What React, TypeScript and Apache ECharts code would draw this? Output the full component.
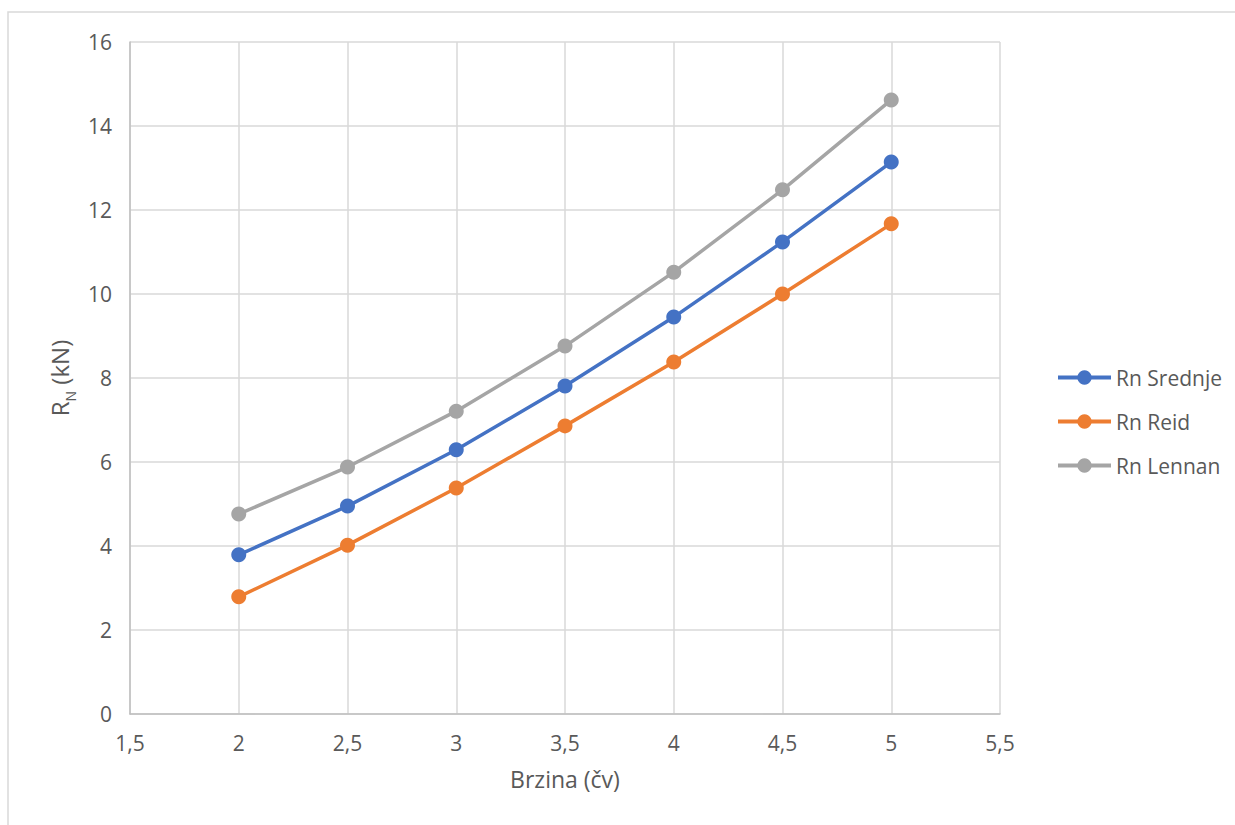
import React, { useEffect, useRef } from "react";
import * as echarts from "echarts";

const speeds = [2, 2.5, 3, 3.5, 4, 4.5, 5];
const rnSrednje = [3.79, 4.95, 6.29, 7.81, 9.45, 11.24, 13.14];
const rnReid = [2.79, 4.02, 5.38, 6.86, 8.38, 10.0, 11.67];
const rnLennan = [4.76, 5.88, 7.21, 8.76, 10.52, 12.48, 14.62];
const seriesNames = ["Rn Srednje", "Rn Reid", "Rn Lennan"];
const seriesColors = ["#4472C4", "#ED7D31", "#A5A5A5"];

const FONT = "'Open Sans', 'Noto Sans', sans-serif";

export default function App() {
  const ref = useRef<HTMLDivElement>(null);
  useEffect(() => {
    if (!ref.current) return;
    const chart = echarts.init(ref.current, undefined, { renderer: "svg" });
    const all = [rnSrednje, rnReid, rnLennan];
    chart.setOption({
      animation: false,
      backgroundColor: "#ffffff",
      textStyle: { fontFamily: FONT },
      graphic: [
        {
          type: "rect",
          shape: { x: 8, y: 12, width: 1250, height: 840 },
          style: { fill: "none", stroke: "#d9d9d9", lineWidth: 1.5 },
          silent: true,
        },
      ],
      grid: { left: 130, right: 235, top: 42, bottom: 111, containLabel: false },
      legend: {
        orient: "vertical",
        left: 1056,
        top: 367,
        padding: 0,
        itemWidth: 53,
        itemHeight: 18,
        itemGap: 23,
        lineStyle: { width: 4 },
        textStyle: { color: "#595959", fontSize: 21, fontFamily: FONT },
        data: seriesNames,
      },
      xAxis: {
        type: "value",
        min: 1.5,
        max: 5.5,
        interval: 0.5,
        name: "Brzina (čv)",
        nameLocation: "middle",
        nameGap: 53,
        nameTextStyle: { color: "#595959", fontSize: 23, fontFamily: FONT },
        axisLine: { show: true, lineStyle: { color: "#bfbfbf", width: 1.5 } },
        axisTick: { show: false },
        splitLine: { show: true, lineStyle: { color: "#d9d9d9", width: 1.5 } },
        axisLabel: {
          color: "#595959",
          fontSize: 21,
          margin: 18,
          formatter: (v: number) => String(v).replace(".", ","),
        },
      },
      yAxis: {
        type: "value",
        min: 0,
        max: 16,
        interval: 2,
        name: "{r|R}{s|N}{r| (kN)}",
        nameLocation: "middle",
        nameGap: 50,
        nameRotate: 90,
        nameTextStyle: {
          color: "#595959",
          fontSize: 24,
          fontFamily: FONT,
          rich: {
            r: { fontSize: 24, color: "#595959", fontFamily: FONT, verticalAlign: "top", lineHeight: 30 },
            s: { fontSize: 14, color: "#595959", fontFamily: FONT, verticalAlign: "bottom", lineHeight: 14 },
          },
        },
        axisLine: { show: true, lineStyle: { color: "#bfbfbf", width: 1.5 } },
        axisTick: { show: false },
        splitLine: { show: true, lineStyle: { color: "#d9d9d9", width: 1.5 } },
        axisLabel: { color: "#595959", fontSize: 21, margin: 18 },
      },
      series: all.map((vals, i) => ({
        name: seriesNames[i],
        type: "line",
        data: speeds.map((s, j) => [s, vals[j]]),
        symbol: "circle",
        symbolSize: 15,
        lineStyle: { color: seriesColors[i], width: 3.5 },
        itemStyle: { color: seriesColors[i] },
        z: 5 - i,
      })),
    });
    return () => chart.dispose();
  }, []);
  return (
    <div
      ref={ref}
      style={{ position: "absolute", left: 0, top: 0, width: 1235, height: 825 }}
    />
  );
}
